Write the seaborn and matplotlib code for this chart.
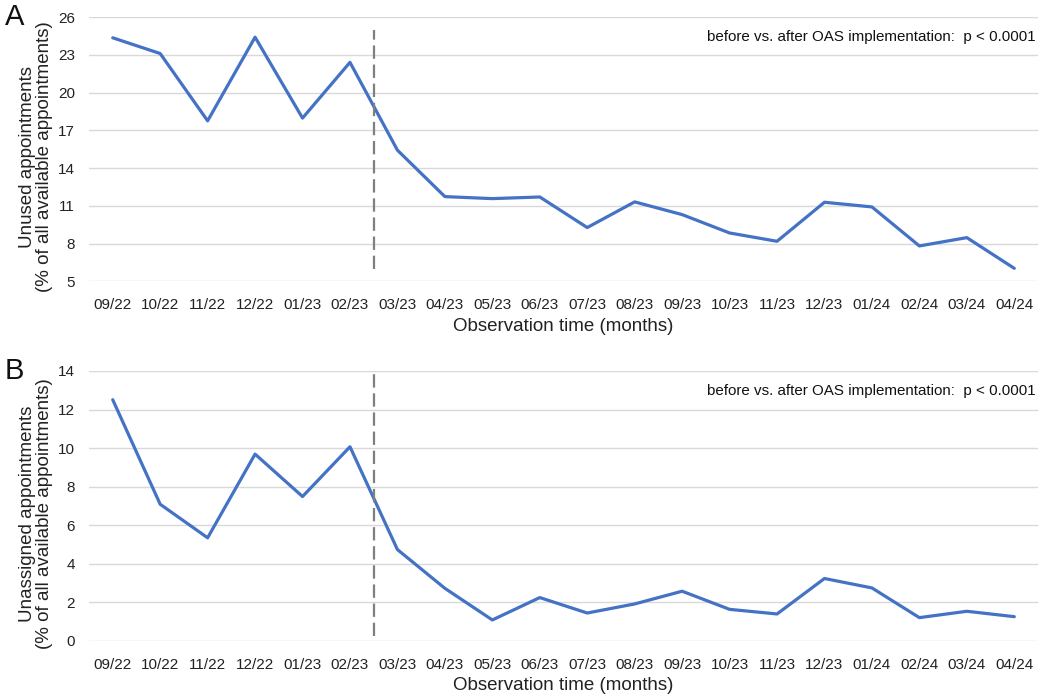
import matplotlib
matplotlib.use("Agg")
import matplotlib.pyplot as plt
import pandas as pd
import seaborn as sns

months = ["09/22", "10/22", "11/22", "12/22", "01/23", "02/23", "03/23", "04/23",
          "05/23", "06/23", "07/23", "08/23", "09/23", "10/23", "11/23", "12/23",
          "01/24", "02/24", "03/24", "04/24"]

unused = [24.35, 23.1, 17.75, 24.4, 17.97, 22.4, 15.42, 11.73, 11.57, 11.7,
          9.27, 11.31, 10.3, 8.84, 8.18, 11.28, 10.91, 7.81, 8.47, 6.03]

unassigned = [12.51, 7.09, 5.35, 9.69, 7.49, 10.07, 4.74, 2.73, 1.09, 2.25,
              1.45, 1.92, 2.58, 1.64, 1.40, 3.24, 2.75, 1.21, 1.54, 1.26]

yticks_a = [5, 8, 11, 14, 17, 20, 23, 26]
yticks_b = [0, 2, 4, 6, 8, 10, 12, 14]

ylabel_a = "Unused appointments\n(% of all available appointments)"
ylabel_b = "Unassigned appointments\n(% of all available appointments)"
xlabel = "Observation time (months)"
note = "before vs. after OAS implementation:  p < 0.0001"
cutoff = 5.5  # between 02/23 and 03/23

sns.set_theme(style="white")
plt.rcParams["font.family"] = ["Liberation Sans", "DejaVu Sans"]

df = pd.DataFrame({"month": months, "unused": unused, "unassigned": unassigned})

fig = plt.figure(figsize=(10.52, 6.98), dpi=100)
ax_a = fig.add_axes([0.0846, 0.597, 0.9021, 0.3786])
ax_b = fig.add_axes([0.0846, 0.0817, 0.9021, 0.3868])

panels = [
    (ax_a, "unused", yticks_a, ylabel_a, "A", (0.045, 0.95)),
    (ax_b, "unassigned", yticks_b, ylabel_b, "B", (0.02, 0.995)),
]

for ax, col, yt, ylab, letter, vspan in panels:
    sns.lineplot(data=df, x="month", y=col, ax=ax, color="#4472C4",
                 linewidth=2.3, sort=False)
    ax.set_xlim(-0.5, len(months) - 0.5)
    ax.set_ylim(yt[0], yt[-1])
    ax.set_yticks(yt)
    ax.yaxis.grid(True, color="#d9d9d9", linewidth=1.0)
    ax.set_axisbelow(True)
    for s in ax.spines.values():
        s.set_visible(False)
    ax.tick_params(axis="both", length=0, labelsize=11, colors="#222222")
    ax.tick_params(axis="x", pad=12)
    ax.tick_params(axis="y", pad=10)
    ax.set_xlabel(xlabel, fontsize=13.5, color="#222222", labelpad=4)
    ax.set_ylabel(ylab, fontsize=13.5, color="#222222", linespacing=1.0)
    ax.yaxis.set_label_coords(-0.038, 0.47)
    ax.axvline(cutoff, ymin=vspan[0], ymax=vspan[1], color="#7f7f7f",
               linewidth=1.6, linestyle=(0, (6, 2.6)))
    ax.text(0.998, 0.925, note, transform=ax.transAxes, ha="right",
            va="center", fontsize=10.9, color="#111111")
    ax.text(-0.089, 1.0, letter, transform=ax.transAxes, ha="left",
            va="center", fontsize=21, color="#111111")

fig.savefig("out.png", dpi=100)
